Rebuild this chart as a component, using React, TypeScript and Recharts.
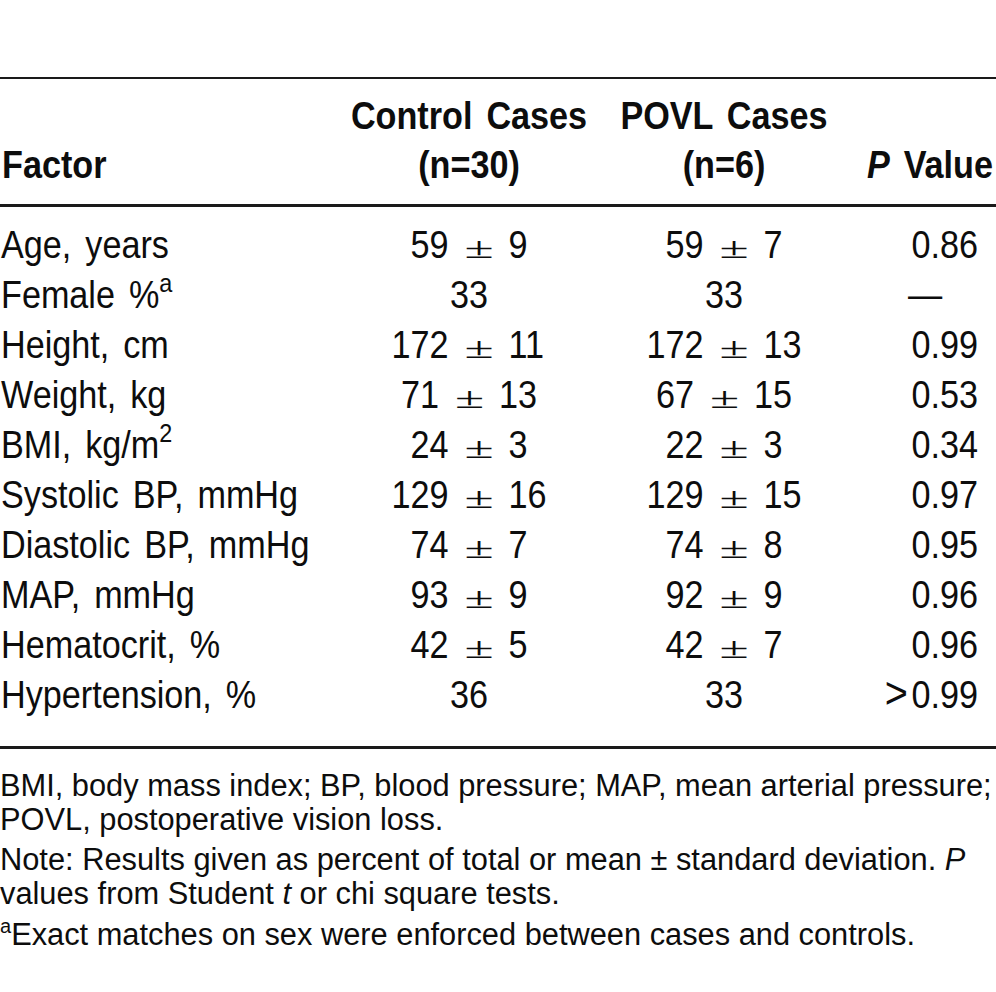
import { Bar, ComposedChart, Customized, XAxis, YAxis } from "recharts";

// table rows
const factors = [
  "Age, years",
  "Female %",
  "Height, cm",
  "Weight, kg",
  "BMI, kg/m",
  "Systolic BP, mmHg",
  "Diastolic BP, mmHg",
  "MAP, mmHg",
  "Hematocrit, %",
  "Hypertension, %",
];
const factorSup = ["", "a", "", "", "2", "", "", "", "", ""];
const controlMean = [59, 33, 172, 71, 24, 129, 74, 93, 42, 36];
const controlSd = [9, null, 11, 13, 3, 16, 7, 9, 5, null];
const povlMean = [59, 33, 172, 67, 22, 129, 74, 92, 42, 33];
const povlSd = [7, null, 13, 15, 3, 15, 8, 9, 7, null];
const pValues = ["0.86", "—", "0.99", "0.53", "0.34", "0.97", "0.95", "0.96", "0.96", ">0.99"];

// header labels
const headerTop = ["", "Control Cases", "POVL Cases", ""];
const headerBottom = ["Factor", "(n=30)", "(n=6)", "Value"];
const headerItalic = ["", "", "", "P"];

// footnotes
const notes = [
  "BMI, body mass index; BP, blood pressure; MAP, mean arterial pressure;",
  "POVL, postoperative vision loss.",
  "Note: Results given as percent of total or mean ± standard deviation. ",
  "values from Student ",
  "Exact matches on sex were enforced between cases and controls.",
];

const rows = factors.map((factor, i) => ({
  factor,
  sup: factorSup[i],
  controlMean: controlMean[i],
  controlSd: controlSd[i],
  povlMean: povlMean[i],
  povlSd: povlSd[i],
  p: pValues[i],
}));

const FONT = "'Liberation Sans', Arial, Helvetica, sans-serif";
const SIZE = 38;
const SX = 0.9;
const DIGIT = 0.556 * SIZE * SX;
const INK = "#0d0d0d";

const COL_CONTROL = 469;
const COL_POVL = 724;
const COL_P_END = 978;
const COL_P_START = 908;

const Cond = ({ x, y, anchor = "start", bold = false, italic = false, children }: any) => (
  <text
    transform={`translate(${x},${y}) scale(${SX},1)`}
    textAnchor={anchor}
    fontFamily={FONT}
    fontSize={SIZE}
    fontWeight={bold ? 700 : 400}
    fontStyle={italic ? "italic" : "normal"}
    wordSpacing={5}
    fill={INK}
  >
    {children}
  </text>
);

const MeanSd = ({ cx, y, mean, sd }: any) => {
  if (sd == null) {
    return <Cond x={cx} y={y} anchor="middle">{mean}</Cond>;
  }
  const m = String(mean).length;
  const s = String(sd).length;
  const w = (m + s) * DIGIT + 60;
  const left = cx - w / 2;
  const pm = left + m * DIGIT + 30.5;
  return (
    <g>
      <Cond x={left} y={y}>{mean}</Cond>
      <text
        transform={`translate(${pm},${y}) scale(1.4,0.8)`}
        textAnchor="middle"
        fontFamily="'Liberation Serif', serif"
        fontSize={SIZE}
        fill={INK}
      >
        ±
      </text>
      <Cond x={pm + 29.5} y={y}>{sd}</Cond>
    </g>
  );
};

const FactorTick = ({ y, index }: any) => {
  const r = rows[index];
  return (
    <Cond x={1} y={y + 13.5}>
      {r.factor}
      {r.sup && (
        <tspan fontSize={26} dy={-16}>
          {r.sup}
        </tspan>
      )}
    </Cond>
  );
};

const ControlTick = ({ y, index }: any) => (
  <MeanSd cx={COL_CONTROL} y={y + 13.5} mean={rows[index].controlMean} sd={rows[index].controlSd} />
);

const PovlTick = ({ y, index }: any) => (
  <MeanSd cx={COL_POVL} y={y + 13.5} mean={rows[index].povlMean} sd={rows[index].povlSd} />
);

const PTick = ({ y, index }: any) => {
  const v = rows[index].p;
  if (v === "—") {
    return <Cond x={COL_P_START} y={y + 13.5}>{v}</Cond>;
  }
  if (v.startsWith(">")) {
    return (
      <Cond x={COL_P_END} y={y + 13.5} anchor="end">
        <tspan fontSize={44}>&gt;</tspan>
        <tspan dx={4}>{v.slice(1)}</tspan>
      </Cond>
    );
  }
  return (
    <Cond x={COL_P_END} y={y + 13.5} anchor="end">
      {v}
    </Cond>
  );
};

const Frame = () => {
  const note = { fontFamily: FONT, fontSize: 30.8, fill: INK };
  return (
    <g>
      <line x1={0} x2={996} y1={78} y2={78} stroke="#1a1a1a" strokeWidth={2} />
      <line x1={0} x2={996} y1={205.5} y2={205.5} stroke="#1a1a1a" strokeWidth={3} />
      <line x1={0} x2={996} y1={747.5} y2={747.5} stroke="#1a1a1a" strokeWidth={3} />

      <Cond x={COL_CONTROL} y={129} anchor="middle" bold>{headerTop[1]}</Cond>
      <Cond x={COL_POVL} y={129} anchor="middle" bold>{headerTop[2]}</Cond>
      <Cond x={2} y={178} bold>{headerBottom[0]}</Cond>
      <Cond x={COL_CONTROL} y={178} anchor="middle" bold>{headerBottom[1]}</Cond>
      <Cond x={COL_POVL} y={178} anchor="middle" bold>{headerBottom[2]}</Cond>
      <Cond x={993} y={178} anchor="end" bold>
        <tspan fontStyle="italic">{headerItalic[3]}</tspan> {headerBottom[3]}
      </Cond>

      <text x={0} y={796} {...note}>{notes[0]}</text>
      <text x={0} y={830} {...note}>{notes[1]}</text>
      <text x={0} y={870} {...note}>
        {notes[2]}
        <tspan fontStyle="italic">P</tspan>
      </text>
      <text x={0} y={904} {...note}>
        {notes[3]}
        <tspan fontStyle="italic">t</tspan> or chi square tests.
      </text>
      <text x={0} y={945} {...note}>
        <tspan fontSize={20} dy={-12}>a</tspan>
        <tspan dy={12}>{notes[4]}</tspan>
      </text>
    </g>
  );
};

const axisProps = {
  type: "category" as const,
  dataKey: "factor",
  width: 1,
  axisLine: false,
  tickLine: false,
  interval: 0,
};

export default function App() {
  return (
    <div style={{ position: "absolute", left: 0, top: 0, background: "#fff" }}>
      <ComposedChart
        width={996}
        height={992}
        data={rows}
        layout="vertical"
        margin={{ top: 219, right: 0, bottom: 273, left: 0 }}
      >
        <XAxis type="number" hide domain={[0, 996]} />
        <YAxis yAxisId="factor" {...axisProps} tick={<FactorTick />} />
        <YAxis yAxisId="control" {...axisProps} tick={<ControlTick />} />
        <YAxis yAxisId="povl" {...axisProps} tick={<PovlTick />} />
        <YAxis yAxisId="p" {...axisProps} tick={<PTick />} />
        {/* invisible carriers so each row axis gets its category domain */}
        <Bar yAxisId="factor" dataKey="controlMean" fill="transparent" isAnimationActive={false} />
        <Bar yAxisId="control" dataKey="controlMean" fill="transparent" isAnimationActive={false} />
        <Bar yAxisId="povl" dataKey="povlMean" fill="transparent" isAnimationActive={false} />
        <Bar yAxisId="p" dataKey="povlMean" fill="transparent" isAnimationActive={false} />
        <Customized component={Frame} />
      </ComposedChart>
    </div>
  );
}
